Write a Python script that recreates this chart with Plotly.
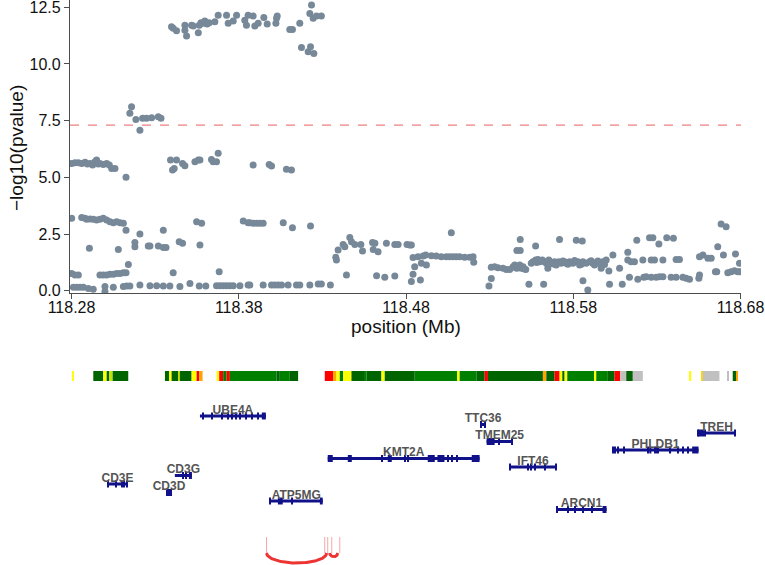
import numpy as np
import plotly.graph_objects as go

# ---------------- association scan: position (Mb) and -log10(p) ----------------
snp_pos = [
    118.3398, 118.3408, 118.3428, 118.3478, 118.3478, 118.3488, 118.3518, 118.3528, 118.3558, 118.3564,
    118.3574, 118.3588, 118.3597, 118.3611, 118.3623, 118.3657, 118.3677, 118.3727, 118.3737, 118.3767,
    118.3787, 118.3836, 118.3846, 118.3856,
    118.3149, 118.3159, 118.3185, 118.3209, 118.3225, 118.3249, 118.3279, 118.3319, 118.3335,
    118.2801, 118.2821, 118.2841, 118.2861, 118.2881, 118.2895, 118.2911, 118.2926, 118.2940, 118.2950,
    118.2960, 118.2970, 118.2990, 118.3010, 118.3026, 118.3040, 118.3060, 118.3126, 118.3392, 118.3404,
    118.3414, 118.3428, 118.3464, 118.3478, 118.3538, 118.3558, 118.3568, 118.3637, 118.3647, 118.3667,
    118.3677,
    118.2801, 118.2861, 118.2881, 118.2891, 118.2911, 118.2930, 118.2950, 118.2970, 118.2990, 118.3010,
    118.3030, 118.3050, 118.3070, 118.3090, 118.3110, 118.3548, 118.3578, 118.3827, 118.3856,
    118.2907, 118.3080, 118.3126, 118.3209, 118.3179, 118.3179, 118.3259, 118.3269, 118.3319, 118.3349,
    118.3365, 118.3349, 118.3444, 118.3464, 118.3568,
    118.2801, 118.2821, 118.2841, 118.2970, 118.2990, 118.3010, 118.3030, 118.3050, 118.3070, 118.3090,
    118.3110, 118.3126, 118.3140, 118.3408, 118.3683,
    118.2811, 118.2831, 118.2851, 118.2871, 118.2901, 118.2930, 118.3000, 118.3000, 118.3050, 118.3110,
    118.3130, 118.3149, 118.3209, 118.3269, 118.3309, 118.3349, 118.3388, 118.3448, 118.3508, 118.3564,
    118.3603, 118.3667, 118.3687, 118.3707, 118.3727, 118.3747, 118.3767, 118.3807, 118.3856,
    118.3886, 118.3896, 118.3916, 118.3950, 118.3970, 118.4022, 118.4026, 118.4030, 118.4105, 118.4121,
    118.4165, 118.4175, 118.4215, 118.4225, 118.4229, 118.4235, 118.4245, 118.4249, 118.4265, 118.4294,
    118.3886, 118.3982, 118.3996, 118.4085, 118.4115,
    118.3866, 118.3886, 118.3906, 118.3926, 118.3946, 118.4066, 118.4121, 118.4229,
    118.3866, 118.3946, 118.3996, 118.4016, 118.4036, 118.4056, 118.4095, 118.4145, 118.4165, 118.4225,
    118.4275, 118.4294, 118.4348,
    118.4380, 118.4384, 118.4394, 118.4424, 118.4434, 118.4444, 118.4464, 118.4474, 118.4494, 118.4530,
    118.4540, 118.4600, 118.4614, 118.4604, 118.4633, 118.4624, 118.4673, 118.4683, 118.4733, 118.4733,
    118.4753, 118.4806, 118.4822, 118.4832, 118.4832, 118.4842, 118.4852, 118.4842, 118.4872, 118.4892,
    118.4886, 118.4902, 118.4922, 118.4918, 118.4952, 118.4981, 118.5011, 118.5041, 118.5061, 118.5081,
    118.5101, 118.5121, 118.5151, 118.5181, 118.5201, 118.5205, 118.5071, 118.5296, 118.5310, 118.5310,
    118.5330, 118.5350,
    118.5380, 118.5400, 118.5420, 118.5440, 118.5450, 118.5463, 118.5470, 118.5480, 118.5490, 118.5500,
    118.5516, 118.5463, 118.5483, 118.5483, 118.5535, 118.5623, 118.5549, 118.5559, 118.5575, 118.5589,
    118.5599, 118.5615, 118.5629, 118.5639, 118.5654, 118.5648, 118.5575, 118.5668, 118.5688, 118.5698,
    118.5714, 118.5728, 118.5748, 118.5758, 118.5778, 118.5798, 118.5828, 118.5838, 118.5858, 118.5877,
    118.5897, 118.5917, 118.5927, 118.5957, 118.5977, 118.5997, 118.5987, 118.5967, 118.5718, 118.5818,
    118.5854, 118.5858, 118.5887, 118.6013, 118.6017, 118.6037, 118.6077, 118.6093, 118.6126, 118.6126,
    118.6146, 118.6166, 118.6136, 118.6186, 118.6222, 118.6236, 118.6266, 118.6296, 118.6316, 118.6336,
    118.6385, 118.6415, 118.6455, 118.6475, 118.6495, 118.6551, 118.6555, 118.6180, 118.6256, 118.6276,
    118.6312, 118.6359, 118.6399, 118.6216, 118.6266, 118.6286, 118.6336, 118.6415, 118.6435, 118.6555,
    118.6575, 118.6605, 118.6625, 118.6650, 118.6658, 118.6664, 118.6684, 118.6714, 118.6698, 118.6724,
    118.6744, 118.6764, 118.6784, 118.6794, 118.6770, 118.6794,
    118.5456, 118.5504, 118.5582, 118.5608, 118.5682, 118.5738, 118.5768, 118.5808, 118.5848, 118.5907,
    118.5937, 118.5947,
]
snp_logp = [
    11.64, 11.57, 11.46, 11.71, 11.49, 11.23, 11.71, 11.67, 11.38, 11.71,
    11.82, 11.79, 11.89, 11.76, 11.82, 11.86, 12.15, 12.15, 11.79, 11.89,
    12.15, 11.93, 11.71, 12.15,
    7.82, 8.11, 7.55, 7.08, 7.60, 7.60, 7.63, 7.67, 7.60,
    5.61, 5.64, 5.64, 5.61, 5.66, 5.59, 5.61, 5.54, 5.69, 5.76,
    5.59, 5.61, 5.57, 5.61, 5.54, 5.39, 5.39, 5.00, 5.76, 5.32,
    5.39, 5.76, 5.61, 5.51, 5.69, 5.76, 5.76, 5.79, 5.69, 5.69,
    6.06,
    3.19, 3.23, 3.19, 3.15, 3.16, 3.15, 3.12, 3.15, 3.19, 3.12,
    3.04, 3.00, 3.04, 3.00, 2.97, 3.04, 2.97, 3.07, 3.00,
    1.87, 1.82, 2.67, 2.50, 2.12, 1.94, 1.97, 1.97, 1.97, 1.91,
    1.91, 2.67, 2.16, 2.09, 2.01,
    0.76, 0.69, 0.69, 0.69, 0.69, 0.69, 0.72, 0.73, 0.76, 0.76,
    0.79, 0.79, 1.16, 0.79, 0.84,
    0.15, 0.15, 0.15, 0.15, 0.10, 0.06, 0.18, -0.04, 0.15, 0.18,
    0.21, 0.21, 0.25, 0.22, 0.22, 0.21, 0.21, 0.18, 0.32, 0.21,
    0.21, 0.22, 0.22, 0.22, 0.22, 0.22, 0.22, 0.22, 0.25,
    12.11, 11.67, 11.79, 12.05, 11.76, 11.79, 12.01, 12.11, 11.52, 11.52,
    11.79, 10.73, 10.54, 12.23, 10.76, 12.60, 12.01, 10.46, 12.11, 12.11,
    5.54, 5.57, 5.50, 5.36, 5.32,
    3.00, 2.97, 2.97, 2.97, 2.97, 3.00, 2.78, 2.85,
    0.25, 0.25, 0.25, 0.25, 0.25, 0.25, 0.25, 0.25, 0.25, 0.25,
    0.29, 0.29, 0.25,
    1.47, 1.35, 1.79, 2.04, 1.94, 0.69, 2.35, 2.16, 2.04, 2.04,
    1.75, 2.12, 2.09, 1.82, 1.72, 0.66, 0.59, 2.09, 0.65, 2.04,
    2.04, 2.04, 2.01, 2.01, 0.40, 0.73, 1.06, 1.46, 1.50, 1.21,
    0.47, 1.53, 1.13, 1.57, 1.54, 1.53, 1.50, 1.50, 1.50, 1.50,
    1.50, 1.50, 1.47, 1.47, 1.50, 1.25, 2.56, 0.21, 0.54, 1.03,
    1.06, 1.01,
    0.99, 0.94, 0.94, 1.06, 1.13, 0.99, 1.06, 1.13, 0.99, 1.06,
    0.94, 1.77, 1.77, 2.26, 0.28, 0.28, 1.21, 1.28, 1.35, 1.38,
    1.28, 1.35, 1.28, 1.21, 1.35, 0.99, 1.97, 1.21, 1.28, 1.13,
    1.28, 1.21, 1.28, 1.21, 1.28, 1.21, 1.28, 1.13, 1.28, 1.21,
    1.28, 1.21, 1.13, 1.21, 1.28, 1.35, 1.16, 0.99, 2.26, 2.23,
    2.19, 0.44, 0.03, 0.87, 0.28, 1.57, 0.99, 0.28, 1.69, 1.35,
    1.28, 1.28, 0.59, 0.50, 0.59, 0.62, 0.59, 0.59, 0.62, 0.62,
    0.59, 0.59, 0.59, 0.55, 0.50, 0.55, 0.69, 2.23, 2.34, 2.34,
    2.06, 2.34, 2.31, 1.35, 1.35, 1.35, 1.35, 1.38, 1.38, 1.50,
    1.57, 1.43, 1.43, 0.84, 0.84, 1.94, 2.94, 2.82, 1.57, 0.79,
    0.84, 0.88, 0.84, 0.84, 1.62, 1.21,
    1.01, 0.97, 1.24, 1.31, 1.18, 1.31, 1.17, 1.33, 1.17, 1.32,
    1.24, 1.31,
]
gw_threshold = 7.3

x_ticks = [118.28, 118.38, 118.48, 118.58, 118.68]
y_ticks = [0.0, 2.5, 5.0, 7.5, 10.0, 12.5]

# ---------------- chromatin state track ----------------
chrom_start = [118.28072, 118.29302, 118.29900, 118.30103, 118.30258, 118.30461, 118.33586, 118.33884,
               118.33986, 118.34380, 118.34482, 118.35181, 118.35479, 118.35635, 118.36674, 118.36830,
               118.37069, 118.37272, 118.37469, 118.40259, 118.40456, 118.41053, 118.43144, 118.43640,
               118.43843, 118.44040, 118.44237, 118.44739, 118.45533, 118.45635, 118.46531, 118.46728,
               118.48521, 118.51108, 118.51209, 118.52207, 118.52703, 118.52900, 118.56186, 118.56389,
               118.56885, 118.57184, 118.57345, 118.57482, 118.57643, 118.59274, 118.59376, 118.60069,
               118.60469, 118.60810, 118.61168, 118.61562, 118.64949, 118.65648, 118.65744, 118.67237,
               118.67536, 118.67739]
chrom_end = [118.28149, 118.29900, 118.30103, 118.30258, 118.30461, 118.31393, 118.33884, 118.33986,
             118.34380, 118.34482, 118.35181, 118.35479, 118.35635, 118.35838, 118.36830, 118.37069,
             118.37272, 118.37469, 118.40259, 118.40456, 118.41053, 118.41549, 118.43640, 118.43843,
             118.44040, 118.44237, 118.44739, 118.45533, 118.45635, 118.46531, 118.46728, 118.48521,
             118.51108, 118.51209, 118.52207, 118.52703, 118.52900, 118.56186, 118.56389, 118.56885,
             118.57184, 118.57345, 118.57482, 118.57643, 118.59274, 118.59376, 118.60069, 118.60469,
             118.60810, 118.61168, 118.61562, 118.62160, 118.65051, 118.65744, 118.66741, 118.67279,
             118.67739, 118.67834]
chrom_state = ["Enh", "TxWk", "Enh", "TxWk", "EnhG", "TxWk", "TxWk", "Enh",
               "TxWk", "EnhG", "TxWk", "Enh", "TssA", "TssAFlnk", "Enh", "TssA",
               "Tx", "TssA", "Tx", "TxWk", "Tx", "TxWk", "TssA", "TssAFlnk",
               "Enh", "Tx", "Enh", "TxWk", "Tx", "TxWk", "Enh", "TxWk",
               "Tx", "Enh", "Tx", "TxWk", "TssA", "TxWk", "TssAFlnk", "TxWk",
               "TssA", "Enh", "TxWk", "Enh", "Tx", "Enh", "Tx", "TxWk",
               "TssA", "ReprPCWk", "TxWk", "ReprPCWk", "Enh", "EnhFlnk", "ReprPCWk", "ReprPCWk",
               "TxWk", "TssAFlnk"]
state_colors = {
    "TssA": "#FF0000", "TssAFlnk": "#FFA500", "Tx": "#008000", "TxWk": "#006400",
    "Enh": "#FFFF00", "EnhG": "#C2E105", "EnhFlnk": "#FFD700", "ReprPCWk": "#C0C0C0",
}

# ---------------- gene models ----------------
gene_names = ["UBE4A", "TTC36", "TREH", "TMEM25", "PHLDB1", "KMT2A",
              "IFT46", "CD3G", "CD3E", "CD3D", "ATP5MG", "ARCN1"]
gene_start = [118.3568, 118.5246, 118.6543, 118.5282, 118.6035, 118.4332,
              118.5419, 118.3418, 118.3018, 118.3365, 118.3986, 118.5700]
gene_end = [118.3962, 118.5276, 118.6770, 118.5438, 118.6549, 118.5240,
            118.5700, 118.3520, 118.3132, 118.3401, 118.4302, 118.5999]
gene_row = [0, 1, 2, 3, 4, 5, 6, 7, 8, 9, 10, 11]
exon_starts = [
    [118.3586, 118.3639, 118.3699, 118.3735, 118.3759, 118.3783, 118.3807, 118.3842, 118.3878, 118.3914, 118.3938],
    [118.5246, 118.5270],
    [118.6543, 118.6549, 118.6561, 118.6573, 118.6585, 118.6764],
    [118.5282, 118.5354, 118.5432],
    [118.6035, 118.6047, 118.6065, 118.6103, 118.6243, 118.6255, 118.6283, 118.6374, 118.6421, 118.6456, 118.6480, 118.6511],
    [118.4332, 118.4452, 118.4655, 118.4691, 118.4792, 118.4810, 118.4930, 118.4988, 118.5049, 118.5073, 118.5103, 118.5193],
    [118.5419, 118.5527, 118.5545, 118.5569, 118.5629, 118.5694],
    [118.3466, 118.3484, 118.3502],
    [118.3018, 118.3066, 118.3096, 118.3126],
    [118.3365],
    [118.3986, 118.4034, 118.4117, 118.4285],
    [118.5700, 118.5766, 118.5808, 118.5856, 118.5910, 118.5975],
]
exon_ends = [
    [118.3592, 118.3645, 118.3705, 118.3741, 118.3765, 118.3789, 118.3813, 118.3848, 118.3884, 118.3920, 118.3962],
    [118.5252, 118.5276],
    [118.6549, 118.6555, 118.6567, 118.6579, 118.6591, 118.6770],
    [118.5330, 118.5360, 118.5438],
    [118.6041, 118.6053, 118.6071, 118.6109, 118.6249, 118.6267, 118.6313, 118.6385, 118.6427, 118.6462, 118.6492, 118.6549],
    [118.4362, 118.4476, 118.4661, 118.4715, 118.4798, 118.4816, 118.4972, 118.5030, 118.5055, 118.5079, 118.5109, 118.5240],
    [118.5425, 118.5533, 118.5551, 118.5575, 118.5635, 118.5700],
    [118.3472, 118.3490, 118.3520],
    [118.3024, 118.3072, 118.3120, 118.3132],
    [118.3401],
    [118.3992, 118.4063, 118.4123, 118.4302],
    [118.5706, 118.5772, 118.5814, 118.5862, 118.5916, 118.5999],
]

# ---------------- chromatin loops ----------------
loop_start = [118.3966, 118.4344]
loop_end = [118.4326, 118.4392]
anchor_pos = [118.3966, 118.4314, 118.4332, 118.4356, 118.4404]

# ======================================================================
FONT = "Liberation Sans, Arial, sans-serif"
POINT_COLOR = "#778899"
GENE_COLOR = "#11118A"
AXIS_COLOR = "#4D4D4D"
TEXT_COLOR = "#111111"

fig = go.Figure()

fig.add_trace(go.Scatter(
    x=snp_pos, y=snp_logp, mode="markers",
    marker=dict(size=7, color=POINT_COLOR, line=dict(width=0)),
    xaxis="x", yaxis="y", hoverinfo="x+y", showlegend=False,
))

# chromatin states
fig.add_trace(go.Bar(
    orientation="h",
    base=chrom_start,
    x=[e - s for s, e in zip(chrom_start, chrom_end)],
    y=[0] * len(chrom_start),
    width=1,
    marker=dict(color=[state_colors[s] for s in chrom_state], line=dict(width=0)),
    xaxis="x", yaxis="y2", showlegend=False, hovertext=chrom_state,
))

# gene backbones
gx, gy = [], []
for s, e, r in zip(gene_start, gene_end, gene_row):
    gx += [s, e, None]
    gy += [r, r, None]
fig.add_trace(go.Scatter(
    x=gx, y=gy, mode="lines", line=dict(color=GENE_COLOR, width=3),
    xaxis="x", yaxis="y3", showlegend=False, hoverinfo="skip",
))

# exons
ex_base, ex_len, ex_row = [], [], []
for starts, ends, r in zip(exon_starts, exon_ends, gene_row):
    for s, e in zip(starts, ends):
        ex_base.append(s)
        ex_len.append(e - s)
        ex_row.append(r)
fig.add_trace(go.Bar(
    orientation="h", base=ex_base, x=ex_len, y=ex_row, width=0.82,
    marker=dict(color=GENE_COLOR, line=dict(width=0)),
    xaxis="x", yaxis="y3", showlegend=False, hoverinfo="skip",
))

# gene labels
fig.add_trace(go.Scatter(
    x=[(s + e) / 2 for s, e in zip(gene_start, gene_end)],
    y=[r - 0.6 for r in gene_row],
    text=gene_names, mode="text", cliponaxis=False,
    textfont=dict(family=FONT, size=12, color="#555555", weight="bold"),
    xaxis="x", yaxis="y3", showlegend=False, hoverinfo="skip",
))

# loop anchors
ax_, ay_ = [], []
for a in anchor_pos:
    ax_ += [a, a, None]
    ay_ += [0, 1.6, None]
fig.add_trace(go.Scatter(
    x=ax_, y=ay_, mode="lines", line=dict(color="#F7A8A8", width=1),
    xaxis="x", yaxis="y4", showlegend=False, hoverinfo="skip",
))

# loop arcs
max_span = max(e - s for s, e in zip(loop_start, loop_end))
lx, ly = [], []
t = np.linspace(0, np.pi, 80)
for s, e in zip(loop_start, loop_end):
    mid, half = (s + e) / 2, (e - s) / 2
    depth = np.sqrt((e - s) / max_span)
    lx += list(mid + half * np.cos(t)) + [None]
    ly += list(-depth * np.sin(t)) + [None]
fig.add_trace(go.Scatter(
    x=lx, y=ly, mode="lines", line=dict(color="#EE3333", width=3),
    xaxis="x", yaxis="y4", showlegend=False, hoverinfo="skip", cliponaxis=False,
))

H = 565.0
W = 765.0
L, R = 70, 24
def dom(top_px, bot_px):
    return [1 - bot_px / H, 1 - top_px / H]

axis_common = dict(
    showline=True, linecolor=AXIS_COLOR, linewidth=1.2, ticks="outside",
    ticklen=5, tickwidth=1.2, tickcolor=AXIS_COLOR, showgrid=False, zeroline=False,
    tickfont=dict(family=FONT, size=16, color=TEXT_COLOR), automargin=False,
    ticklabeloverflow="allow",
)

plot_w = W - L - R
fig.update_layout(
    width=765, height=565,
    margin=dict(l=L, r=R, t=0, b=0),
    paper_bgcolor="white", plot_bgcolor="white",
    barmode="overlay", showlegend=False,
    font=dict(family=FONT),
    xaxis=dict(
        domain=[0, 1], range=[118.2791, 118.6803], anchor="y",
        tickvals=x_ticks, tickformat=".2f", ticklabelstandoff=-6,
        **axis_common,
    ),
    yaxis=dict(
        domain=dom(0, 293.3), range=[-0.115, 12.82], anchor="x",
        tickvals=y_ticks, tickformat=".1f",
        **axis_common,
    ),
    yaxis2=dict(domain=dom(371, 381), range=[-0.5, 0.5], anchor="x", visible=False),
    yaxis3=dict(domain=dom(405, 520), range=[12.235, -1.294], anchor="x", visible=False),
    yaxis4=dict(domain=dom(530, 565), range=[-1.2, 2.3], anchor="x", visible=False),
    shapes=[dict(
        type="line", xref="x domain", x0=0, x1=1, yref="y", y0=gw_threshold, y1=gw_threshold,
        line=dict(color="#EE8080", width=1.2, dash="dash"), layer="below",
    )],
    annotations=[
        dict(text="position (Mb)", xref="paper", yref="paper",
             x=(405.6 - L) / plot_w, y=1 - 326.5 / H, xanchor="center", yanchor="middle",
             showarrow=False, font=dict(family=FONT, size=19, color=TEXT_COLOR)),
        dict(text="\u2212log10(pvalue)", xref="paper", yref="paper",
             x=(16 - L) / plot_w, y=1 - 148 / H, xanchor="center", yanchor="middle",
             textangle=-90, showarrow=False, font=dict(family=FONT, size=19, color=TEXT_COLOR)),
    ],
)

fig.write_html(
    "out.html",
    config={"displayModeBar": False},
    post_script="document.body.style.margin='0';document.body.style.overflow='hidden';",
)
